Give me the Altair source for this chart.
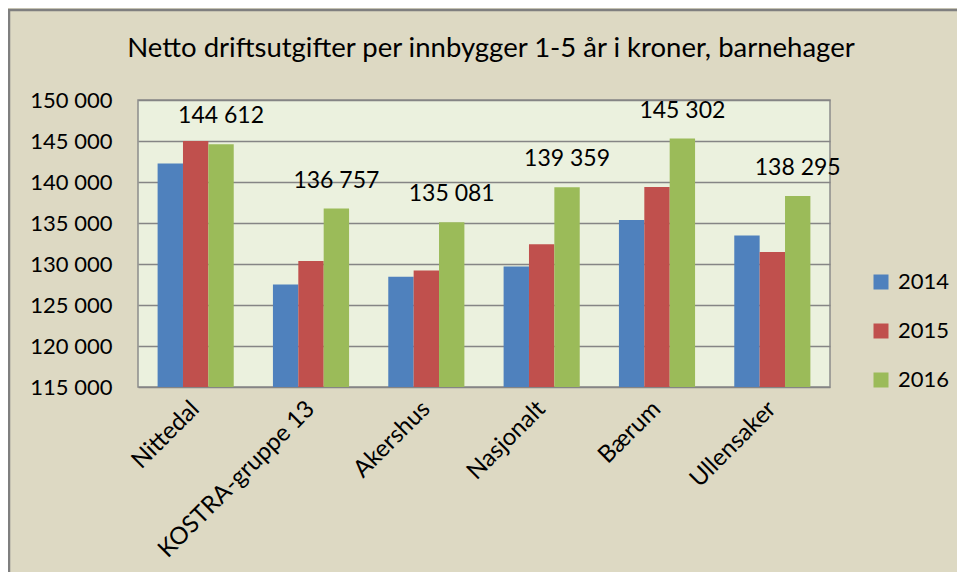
import altair as alt
import pandas as pd

categories = ["Nittedal", "KOSTRA-gruppe 13", "Akershus", "Nasjonalt", "Bærum", "Ullensaker"]
years = ["2014", "2015", "2016"]
v2014 = [142250, 127500, 128450, 129700, 135370, 133480]
v2015 = [145000, 130370, 129220, 132400, 139400, 131460]
v2016 = [144612, 136757, 135081, 139359, 145302, 138295]
colors = ["#4f81bd", "#c0504d", "#9bbb59"]
title_text = "Netto driftsutgifter per innbygger 1-5 år i kroner, barnehager"

rows = []
for i, c in enumerate(categories):
    for y, vals in zip(years, [v2014, v2015, v2016]):
        rows.append({"kategori": c, "år": y, "verdi": vals[i]})
df = pd.DataFrame(rows)

FONT = "Lato"

x = alt.X("kategori:N", sort=categories, title=None,
          scale=alt.Scale(paddingInner=0.34, paddingOuter=0.17),
          axis=alt.Axis(labelAngle=-45, labelFontSize=24, labelColor="#000000",
                        ticks=False, domain=False, labelPadding=18, labelLimit=0,
                        labelAlign="right", labelBaseline="middle"))
xo = alt.XOffset("år:N", sort=years)
yscale = alt.Scale(domain=[115000, 150000], zero=False, nice=False)

bars = alt.Chart(df).mark_bar(clip=True).encode(
    x=x,
    xOffset=xo,
    y=alt.Y("verdi:Q", scale=yscale, title=None,
            axis=alt.Axis(values=list(range(115000, 150001, 5000)),
                          labelExpr="replace(format(datum.value, ','), ',', ' ')",
                          labelFontSize=22, labelColor="#000000", labelPadding=26,
                          ticks=False, domain=False, grid=True,
                          gridColor="#858585", gridWidth=1.5)),
    y2=alt.datum(115000),
    color=alt.Color("år:N", sort=years,
                    scale=alt.Scale(domain=years, range=colors),
                    legend=alt.Legend(orient="none", legendX=732, legendY=171,
                                      title=None, symbolType="square",
                                      symbolSize=225, symbolStrokeWidth=0,
                                      labelFontSize=22, labelColor="#000000",
                                      rowPadding=27, labelOffset=6)),
)

labels = alt.Chart(df).transform_filter(
    alt.datum["år"] == "2016"
).transform_calculate(
    lbl="replace(format(datum.verdi, ','), ',', ' ')"
).mark_text(fontSize=23, dy=-28, baseline="middle", color="#000000", font=FONT).encode(
    x=alt.X("kategori:N", sort=categories),
    xOffset=alt.XOffset("år:N", sort=years),
    y=alt.Y("verdi:Q", scale=yscale),
    text="lbl:N",
)

title_df = pd.DataFrame({"t": [title_text]})
title_mark = alt.Chart(title_df).mark_text(
    fontSize=27.5, baseline="alphabetic", align="center", color="#000000", font=FONT
).encode(x=alt.value(353), y=alt.value(-43), text="t:N")

frame_top = alt.Chart(title_df).mark_rule(color="#7f7f7f", strokeWidth=2.5).encode(
    x=alt.value(-131), x2=alt.value(819), y=alt.value(-90)
)
frame_left = alt.Chart(title_df).mark_rule(color="#7f7f7f", strokeWidth=2.5).encode(
    x=alt.value(-129), y=alt.value(-91), y2=alt.value(480)
)

chart = alt.layer(bars, labels, title_mark, frame_top, frame_left).properties(
    width=692, height=287,
    autosize=alt.AutoSizeParams(type="none"),
    padding={"left": 130, "top": 92, "right": 127, "bottom": 185},
    background="#ddd9c3",
).configure(font=FONT).configure_view(
    fill="#ebf1de", stroke="#8c8c8c", strokeWidth=1.5
)

chart.save("out.html", embed_options={"renderer": "svg", "actions": False})
